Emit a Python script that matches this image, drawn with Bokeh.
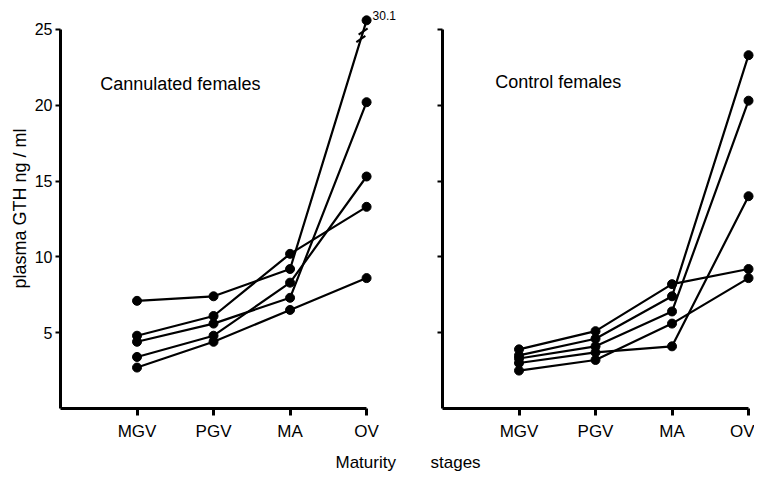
import math
from bokeh.plotting import figure
from bokeh.layouts import row
from bokeh.models import FixedTicker, Label, Range1d, Title
from bokeh.embed import file_html
from bokeh.resources import INLINE

# ---------------- data ----------------
STAGES = ["MGV", "PGV", "MA", "OV"]
STAGE_POS = [1, 2, 3, 4]
Y_TICKS = [5, 10, 15, 20, 25]

# Cannulated females (plasma GTH ng/ml), one list per fish
cann_1 = [7.1, 7.4, 9.2, 30.1]
cann_2 = [4.8, 6.1, 10.2, 13.3]
cann_3 = [4.4, 5.6, 7.3, 20.2]
cann_4 = [3.4, 4.8, 8.3, 15.3]
cann_5 = [2.7, 4.4, 6.5, 8.6]

# Control females
ctrl_1 = [3.9, 5.1, 8.2, 9.2]
ctrl_2 = [3.5, 4.6, 7.4, 23.3]
ctrl_3 = [3.3, 4.1, 6.4, 20.3]
ctrl_4 = [3.0, 3.7, 4.1, 14.0]
ctrl_5 = [2.5, 3.2, 5.6, 8.6]

AXIS_MAX = 25
BREAK_SHOWN = 25.6   # off-scale values are drawn here, above a broken line

FONT = "Liberation Sans"
Y_END = 26.38


def shown(v):
    return v if v <= AXIS_MAX else BREAK_SHOWN


def make_fig(frame_w, x_end, border_left, show_labels):
    p = figure(frame_width=frame_w, frame_height=400,
               x_range=Range1d(0, x_end), y_range=Range1d(0, Y_END),
               min_border_left=border_left, min_border_right=0,
               min_border_top=8, min_border_bottom=60,
               output_backend="svg", toolbar_location=None)
    p.outline_line_color = None
    p.xgrid.visible = False
    p.ygrid.visible = False
    p.background_fill_color = "white"
    p.border_fill_color = "white"

    xa = p.xaxis[0]
    xa.bounds = (0, STAGE_POS[-1])
    xa.ticker = FixedTicker(ticks=STAGE_POS)
    xa.major_label_overrides = {pos: name for pos, name in zip(STAGE_POS, STAGES)}
    xa.axis_line_width = 3
    xa.major_tick_line_width = 3
    xa.major_tick_out = 7
    xa.major_tick_in = 0
    xa.minor_tick_line_color = None
    xa.major_label_text_font = FONT
    xa.major_label_text_font_size = "17px"
    xa.major_label_text_color = "black"
    xa.major_label_standoff = 6

    ya = p.yaxis[0]
    ya.bounds = (0, AXIS_MAX)
    ya.ticker = FixedTicker(ticks=Y_TICKS)
    ya.axis_line_width = 3
    ya.major_tick_line_width = 2
    ya.major_tick_out = 5
    ya.major_tick_in = 0
    ya.minor_tick_line_color = None
    ya.major_label_text_font = FONT
    ya.major_label_text_font_size = "16px"
    ya.major_label_text_color = "black"
    ya.major_label_standoff = 3
    if not show_labels:
        ya.major_label_overrides = {t: "" for t in Y_TICKS}
    return p


def draw_series(p, series):
    for vals in series:
        ys = [shown(v) for v in vals]
        p.line(STAGE_POS, ys, line_width=2.2, line_color="black")
        p.scatter(STAGE_POS, ys, size=9, fill_color="black", line_color="black")


# ---------------- left panel ----------------
p1 = make_fig(352, 4.6, 60, True)
cann = [cann_1, cann_2, cann_3, cann_4, cann_5]
draw_series(p1, cann)

# axis break on the off-scale line + true value
for vals in cann:
    if vals[-1] > AXIS_MAX:
        y0, y1 = shown(vals[-2]), shown(vals[-1])
        ts = [0.925, 0.955]
        p1.scatter([STAGE_POS[-2] + t for t in ts], [y0 + t * (y1 - y0) for t in ts],
                   marker="dash", size=11, angle=math.radians(35),
                   line_color="black", line_width=2)
        p1.add_layout(Label(x=STAGE_POS[-1], y=y1, text=f"{vals[-1]:.1f}",
                            x_offset=6, text_align="left", text_baseline="bottom",
                            text_font=FONT, text_font_size="12px", text_color="black"))

p1.add_layout(Label(x=0.52, y=21.4, text="Cannulated females", text_font=FONT,
                    text_font_size="18px", text_align="left", text_baseline="middle",
                    text_color="black"))
p1.add_layout(Title(text="plasma GTH ng / ml", align="center", offset=41,
                    text_font=FONT, text_font_size="18px", text_font_style="normal",
                    text_color="black", standoff=4), "left")
p1.add_layout(Title(text="Maturity", align="left", offset=275,
                    text_font=FONT, text_font_size="17px", text_font_style="normal",
                    text_color="black", standoff=14), "below")

# ---------------- right panel ----------------
p2 = make_fig(312, 4.078, 30, False)
ctrl = [ctrl_1, ctrl_2, ctrl_3, ctrl_4, ctrl_5]
draw_series(p2, ctrl)
p2.add_layout(Label(x=0.69, y=21.5, text="Control females", text_font=FONT,
                    text_font_size="18px", text_align="left", text_baseline="middle",
                    text_color="black"))
p2.add_layout(Title(text="stages", align="left", offset=-12,
                    text_font=FONT, text_font_size="17px", text_font_style="normal",
                    text_color="black", standoff=14), "below")

layout = row(p1, p2)
open("out.html", "w").write(file_html(layout, INLINE))
